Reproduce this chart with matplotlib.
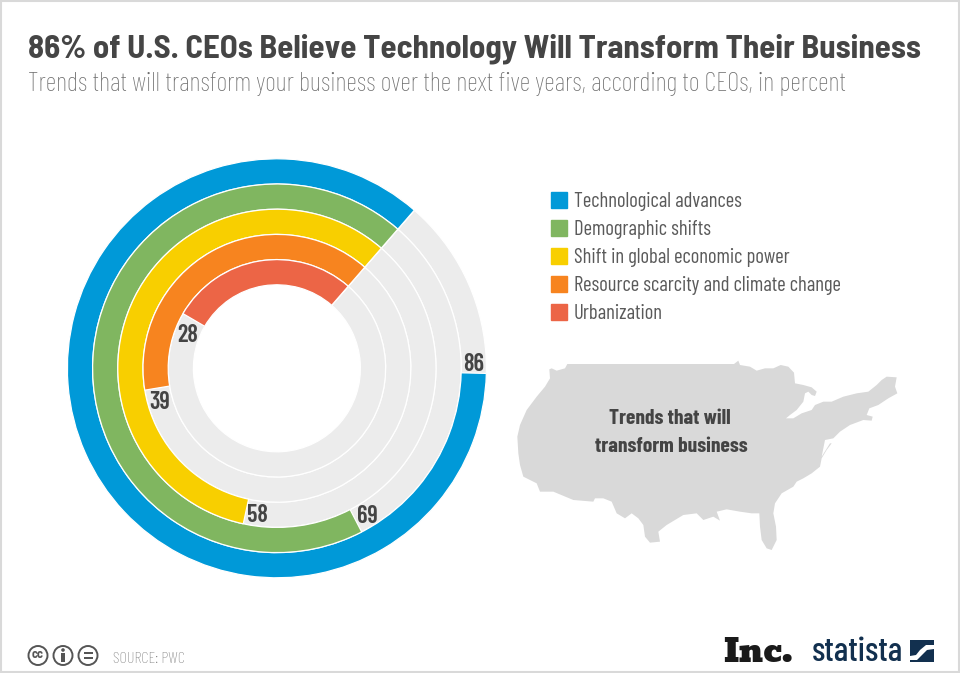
import numpy as np
import matplotlib
matplotlib.use("Agg")
import matplotlib.pyplot as plt
from matplotlib.patches import Polygon, Rectangle, Circle, Patch

categories = ["Technological advances", "Demographic shifts", "Shift in global economic power",
              "Resource scarcity and climate change", "Urbanization"]
values = [86, 69, 58, 39, 28]
colors = ["#0099D8", "#80B660", "#F8CF00", "#F7841F", "#EC6546"]
title = "86% of U.S. CEOs Believe Technology Will Transform Their Business"
subtitle = "Trends that will transform your business over the next five years, according to CEOs, in percent"
source = "SOURCE: PWC"

map_outline = [(118,58),(125,55),(140,62),(165,55),(172,42),(300,42),(450,42),(600,42),(672,42),(685,32),(690,45),
    (720,50),(740,62),(765,55),(790,55),(812,45),(835,50),(852,68),(855,100),(880,105),(905,112),(920,125),(915,138),
    (905,135),(895,125),(885,130),(880,155),(860,180),(840,195),(828,205),(850,205),(875,190),(905,180),(915,165),
    (940,155),(965,155),(1000,140),(1040,130),(1075,125),(1100,105),(1115,90),(1130,80),(1160,82),(1155,110),(1162,130),
    (1135,145),(1105,165),(1078,175),(1070,195),(1088,200),(1085,212),(1060,210),(1020,225),(990,245),(970,265),(945,270),
    (935,320),(960,280),(965,280),(950,300),(935,325),(930,350),(905,370),(880,385),(860,395),(850,410),(815,430),(795,460),
    (790,490),(798,530),(800,570),(785,600),(770,595),(755,570),(750,530),(748,490),(725,490),(690,485),(650,478),(620,485),
    (630,512),(610,500),(580,510),(560,490),(520,495),(470,525),(445,545),(450,575),(420,578),(405,560),(400,525),(385,505),
    (365,490),(345,505),(320,490),(305,455),(280,445),(255,445),(250,455),(190,450),(130,425),(90,425),(80,400),(40,380),
    (30,345),(25,310),(22,260),(30,225),(50,180),(80,140),(105,110),(120,85)]

BOLD = ["Barlow Semi Condensed", "DejaVu Sans"]
COND = ["Barlow Condensed", "DejaVu Sans"]
SLAB = ["Bevan", "Alfa Slab One", "Liberation Serif"]
W, H = 960, 673
fig = plt.figure(figsize=(W/100, H/100), dpi=100, facecolor="white")

cx, cy, rmax = 276.9, 368.3, 215
pax = fig.add_axes([(cx-rmax)/W, (H-cy-rmax)/H, 2*rmax/W, 2*rmax/H], polar=True)
pax.set_ylim(0, rmax)
pax.set_axis_off()
start = np.deg2rad(49)
deg_per_unit = 3.6
base, thick = 83.5, 25.2
n = len(values)
for i, v in enumerate(values):
    bottom = base + (n-1-i)*thick
    pax.bar(start, thick, width=2*np.pi, bottom=bottom, align="edge", color="#ECECEC", edgecolor="white", linewidth=0.9)
for i, (v, c) in enumerate(zip(values, colors)):
    bottom = base + (n-1-i)*thick
    w = np.deg2rad(v*deg_per_unit)
    pax.bar(start, thick, width=w, bottom=bottom, align="edge", color=c, edgecolor="white", linewidth=0.9)
    r = bottom + thick/2
    gap = [11, 13, 11.5, 12, 14][i]
    pax.annotate(str(v), (start + w + gap/r, r), xytext=(0, -1.8), textcoords="offset points",
                 ha="center", va="center", family=COND, weight="semibold", fontsize=17.5, color="#444444")

ax = fig.add_axes([0, 0, 1, 1], facecolor="none")
ax.set_xlim(0, W); ax.set_ylim(H, 0); ax.axis("off")
ax.add_patch(Rectangle((1, 1), W-2, H-2, fill=False, ec="#D9D9D9", lw=1.5))

def fit(t, width):
    r = fig.canvas.get_renderer()
    t.set_fontsize(t.get_fontsize()*width/t.get_window_extent(r).width)
    return t

fit(ax.text(28, 58, title, family=BOLD, weight="bold", fontsize=20, color="#454545", va="baseline"), 892)
fit(ax.text(28, 91, subtitle, family=COND, weight="light", fontsize=17, color="#6E6E6E", va="baseline"), 822)

probe = fit(ax.text(0, 0, categories[3], family=COND, fontsize=14), 268)
legend_size = probe.get_fontsize()
probe.remove()
handles = [Patch(color=c, label=l) for c, l in zip(colors, categories)]
ax.legend(handles=handles, loc="upper left", bbox_to_anchor=(551/W, 1-192/H), bbox_transform=fig.transFigure,
          frameon=False, borderpad=0, borderaxespad=0, handlelength=16/(legend_size*100/72), handleheight=0.8,
          handletextpad=7/(legend_size*100/72), labelspacing=0.43,
          prop={"family": COND, "size": legend_size}, labelcolor="#5A5A5A")

pts = [(510 + x/3, 350 + y/3) for x, y in map_outline]
ax.add_patch(Polygon(pts, closed=True, fc="#D9D9D9", ec="none"))
ax.text(670, 418, "Trends that will", family=COND, weight="bold", fontsize=15.5, color="#444444", ha="center", va="center")
ax.text(671, 446, "transform business", family=COND, weight="bold", fontsize=15.5, color="#444444", ha="center", va="center")

for x in (38, 63, 88):
    ax.add_patch(Circle((x, 655.5), 9.5, fc="white", ec="#555555", lw=1.4))
ax.text(38, 655, "cc", ha="center", va="center", fontsize=9, weight="bold", color="#555555", family=BOLD)
ax.add_patch(Circle((63, 650), 1.8, fc="#555555", ec="none"))
ax.add_patch(Rectangle((61, 652.5), 4, 9, fc="#555555", ec="none"))
ax.add_patch(Rectangle((83.5, 652), 9, 2, fc="#555555", ec="none"))
ax.add_patch(Rectangle((83.5, 656.5), 9, 2, fc="#555555", ec="none"))
fit(ax.text(113, 663, source, family=COND, weight="light", fontsize=10.5, color="#808080", va="baseline"), 72)

fit(ax.text(723, 662, "Inc.", family=SLAB, fontsize=18, color="#1A1A1A", va="baseline"), 69)
fit(ax.text(812, 661, "statista", family=COND, weight="medium", fontsize=20, color="#12304F", va="baseline"), 91)
ax.add_patch(Rectangle((910, 640), 24, 22, fc="#12304F", ec="none"))
ax.add_patch(Polygon([(934,645),(926,645),(920,650),(916,655),(910,656),(910,660),(917,660),(923,654),(927,650),(934,649)],
                     closed=True, fc="white", ec="none"))

fig.savefig("out.png", dpi=100, facecolor="white")
